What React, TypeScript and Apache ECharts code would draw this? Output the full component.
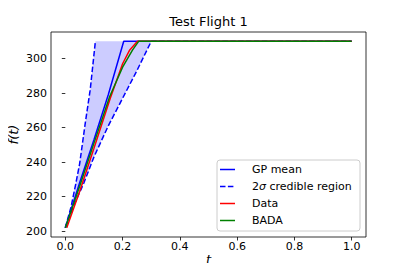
import React, { useEffect, useRef } from "react";
import * as echarts from "echarts";

const gpMean: [number, number][] = [
  [0, 202], [0.05, 228], [0.1, 253], [0.15, 279], [0.204, 310], [1.0, 310],
];
const upperBound: [number, number][] = [
  [0, 202], [0.02, 214], [0.036, 227], [0.05, 239], [0.07, 263], [0.087, 282], [0.105, 310],
];
const lowerBound: [number, number][] = [
  [0, 202], [0.03, 215], [0.065, 228], [0.1, 243], [0.15, 261], [0.2, 277], [0.25, 293], [0.3, 310], [1.0, 310],
];
const dataSeries: [number, number][] = [
  [0.005, 202], [0.05, 223], [0.1, 248], [0.157, 277], [0.2, 297], [0.225, 305], [0.252, 310], [1.0, 310],
];
const badaSeries: [number, number][] = [
  [0, 202], [0.05, 226], [0.1, 251], [0.155, 278], [0.2, 295], [0.235, 305], [0.256, 310], [1.0, 310],
];
const xTicks = [0, 0.2, 0.4, 0.6, 0.8, 1.0];
const yTicks = [200, 220, 240, 260, 280, 300];
const legendNames = ["GP mean", "2{i|σ} credible region", "Data", "BADA"];
const legendColors = ["#0000ff", "#0000ff", "#ff0000", "#008000"];
const legendDashed = [false, true, false, false];

const FONT = "DejaVu Sans";

export default function App() {
  const ref = useRef<HTMLDivElement>(null);
  useEffect(() => {
    if (!ref.current) return;
    const chart = echarts.init(ref.current, null, { renderer: "svg" });
    const lowerCapIdx = lowerBound.findIndex((p) => p[1] >= 310);
    const band: [number, number][] = [
      ...upperBound,
      ...lowerBound.slice(0, lowerCapIdx + 1).reverse(),
    ];
    const dash = [5.5, 2.4];
    const lineSeries = (name: string, data: [number, number][], color: string, dashed = false) => ({
      name,
      type: "line",
      data,
      symbol: "none",
      showSymbol: false,
      z: 3,
      lineStyle: { color, width: 1.5, type: dashed ? dash : "solid" },
      itemStyle: { color },
    });
    const legendLeft = 217;
    const legendTop = 160;
    const rowY = [169.5, 186.5, 203.5, 220.5];
    const legendGraphics: any[] = [
      {
        type: "rect",
        shape: { x: legendLeft, y: legendTop, width: 143, height: 71, r: 3 },
        style: { fill: "rgba(255,255,255,0.8)", stroke: "#cccccc", lineWidth: 1 },
        z: 10,
      },
    ];
    legendNames.forEach((name, i) => {
      legendGraphics.push({
        type: "line",
        shape: { x1: 220, y1: rowY[i], x2: 235, y2: rowY[i] },
        style: { stroke: legendColors[i], lineWidth: 1.5, lineDash: legendDashed[i] ? dash : null },
        z: 11,
      });
      legendGraphics.push({
        type: "text",
        x: 252,
        y: rowY[i],
        style: {
          text: name,
          fontFamily: FONT,
          fontSize: 11,
          fill: "#000",
          verticalAlign: "middle",
          align: "left",
          rich: { i: { fontFamily: FONT, fontStyle: "italic", fontSize: 11, fill: "#000" } },
        },
        z: 11,
      });
    });
    chart.setOption({
      animation: false,
      backgroundColor: "#ffffff",
      title: {
        text: "Test Flight 1",
        left: 208.5,
        textAlign: "center",
        top: 15,
        padding: 0,
        textStyle: { fontFamily: FONT, fontSize: 13, fontWeight: "normal", color: "#000" },
      },
      grid: {
        left: 51,
        right: 41,
        top: 32,
        bottom: 34,
        show: true,
        outerBoundsMode: "none",
        containLabel: false,
        borderColor: "#000",
        borderWidth: 0.8,
        backgroundColor: "transparent",
      },
      graphic: legendGraphics,
      xAxis: {
        type: "value",
        min: -0.05,
        max: 1.05,
        name: "t",
        nameLocation: "middle",
        nameGap: 16,
        nameMoveOverlap: false,
        nameTextStyle: { fontFamily: FONT, fontSize: 13, fontStyle: "italic", color: "#000" },
        axisLine: { show: false },
        axisTick: { show: true, length: 3.5, inside: false, customValues: xTicks, lineStyle: { color: "#000", width: 0.8 } },
        axisLabel: {
          customValues: xTicks,
          formatter: (v: number) => v.toFixed(1),
          fontFamily: FONT,
          fontSize: 11,
          color: "#000",
          margin: 4,
        },
        splitLine: { show: false },
      },
      yAxis: {
        type: "value",
        min: 196.6,
        max: 315.4,
        name: "f(t)",
        nameLocation: "middle",
        nameGap: 31,
        nameMoveOverlap: false,
        nameTextStyle: { fontFamily: FONT, fontSize: 13, fontStyle: "italic", color: "#000" },
        axisLine: { show: false },
        axisTick: { show: true, length: 3.5, inside: false, customValues: yTicks, lineStyle: { color: "#000", width: 0.8 } },
        axisLabel: {
          customValues: yTicks,
          formatter: (v: number) => String(v),
          fontFamily: FONT,
          fontSize: 11,
          color: "#000",
          margin: 4,
        },
        splitLine: { show: false },
      },
      series: [
        {
          name: "band",
          type: "custom",
          z: 1,
          silent: true,
          data: [band[0]],
          renderItem: (params: any, api: any) => {
            if (params.dataIndex !== 0) return null;
            const pts = band.map((p) => api.coord(p));
            return {
              type: "polygon",
              shape: { points: pts },
              style: { fill: "rgba(0,0,255,0.2)", stroke: "none" },
            };
          },
        },
        lineSeries("GP mean", gpMean, "#0000ff"),
        lineSeries("2σ credible region", upperBound, "#0000ff", true),
        lineSeries("2σ lower", lowerBound, "#0000ff", true),
        lineSeries("Data", dataSeries, "#ff0000"),
        lineSeries("BADA", badaSeries, "#008000"),
      ],
    });
    return () => chart.dispose();
  }, []);
  return <div ref={ref} style={{ width: 407, height: 271, margin: -8 }} />;
}
